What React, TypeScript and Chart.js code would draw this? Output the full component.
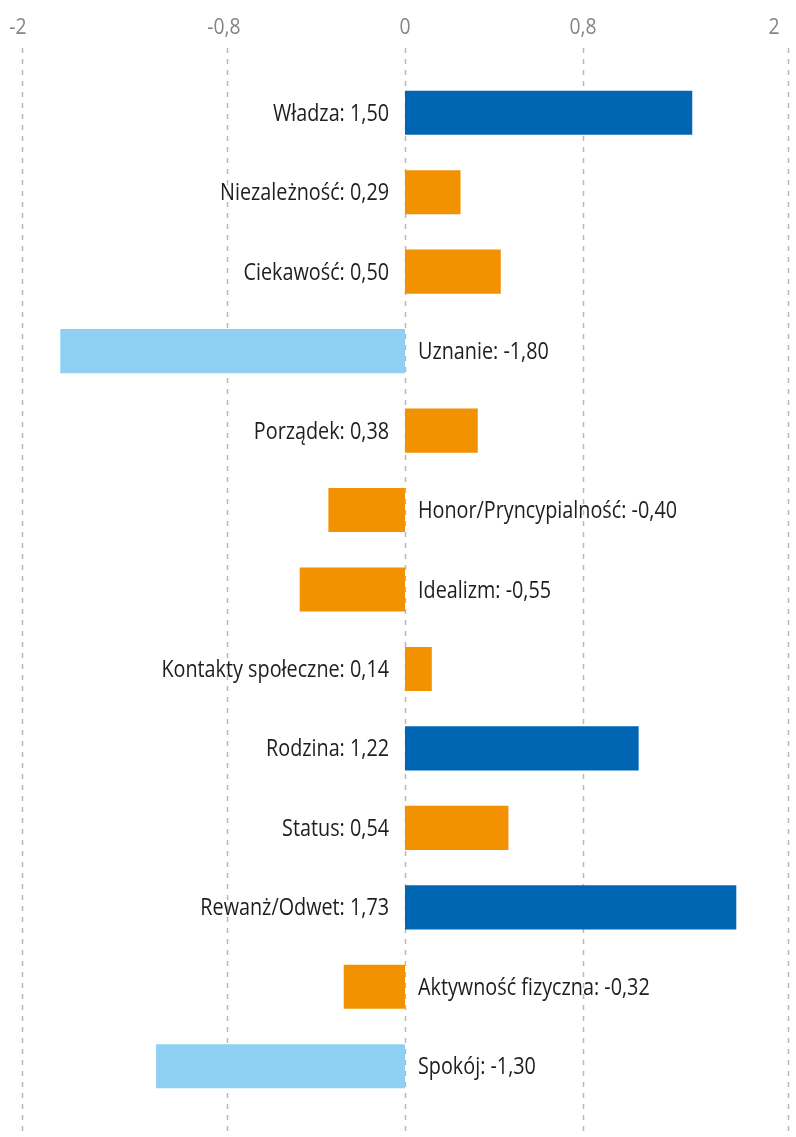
import React, { useEffect, useRef } from "react";
import { Chart, registerables } from "chart.js";

Chart.register(...registerables);

const categories = [
  "Władza",
  "Niezależność",
  "Ciekawość",
  "Uznanie",
  "Porządek",
  "Honor/Pryncypialność",
  "Idealizm",
  "Kontakty społeczne",
  "Rodzina",
  "Status",
  "Rewanż/Odwet",
  "Aktywność fizyczna",
  "Spokój",
];

const values = [1.5, 0.29, 0.5, -1.8, 0.38, -0.4, -0.55, 0.14, 1.22, 0.54, 1.73, -0.32, -1.3];

const tickValues = [-2, -0.93, 0, 0.93, 2];
const tickLabels = ["-2", "-0,8", "0", "0,8", "2"];

const DARK_BLUE = "#0066b3";
const ORANGE = "#f39200";
const LIGHT_BLUE = "#8fd0f2";
const FONT = "'Open Sans', sans-serif";

function colorFor(v: number) {
  if (v >= 1) return DARK_BLUE;
  if (v <= -1) return LIGHT_BLUE;
  return ORANGE;
}

function fmt(v: number) {
  return v.toFixed(2).replace(".", ",");
}

function narrowText(ctx: CanvasRenderingContext2D, text: string, x: number, y: number, sx: number) {
  ctx.save();
  ctx.translate(x, y);
  ctx.scale(sx, 1);
  ctx.fillText(text, 0, 0);
  ctx.restore();
}

const overlayPlugin = {
  id: "overlay",
  beforeDatasetsDraw(chart: any) {
    const ctx = chart.ctx;
    const xs = chart.scales.x;
    ctx.save();
    ctx.strokeStyle = "#b8b8b8";
    ctx.lineWidth = 1.5;
    ctx.setLineDash([5, 6]);
    tickValues.forEach((t) => {
      const x = Math.round(xs.getPixelForValue(t)) + 0.5;
      ctx.beginPath();
      ctx.moveTo(x, 48);
      ctx.lineTo(x, 1132);
      ctx.stroke();
    });
    ctx.setLineDash([]);
    ctx.fillStyle = "#858585";
    ctx.font = `21px ${FONT}`;
    ctx.textAlign = "center";
    ctx.textBaseline = "alphabetic";
    tickValues.forEach((t, i) => {
      let x = xs.getPixelForValue(t);
      if (i === 0) x -= 4;
      if (i === 1) x -= 3;
      if (i === tickValues.length - 1) x -= 14;
      narrowText(ctx, tickLabels[i], x, 33.5, 0.92);
    });
    ctx.restore();
  },
  afterDatasetsDraw(chart: any) {
    const ctx = chart.ctx;
    const xs = chart.scales.x;
    const meta = chart.getDatasetMeta(0);
    const x0 = xs.getPixelForValue(0);
    ctx.save();
    ctx.fillStyle = "#1e1e1e";
    ctx.font = `23px ${FONT}`;
    ctx.textBaseline = "alphabetic";
    meta.data.forEach((bar: any, i: number) => {
      const v = values[i];
      const text = `${categories[i]}: ${fmt(v)}`;
      if (v >= 0) {
        ctx.textAlign = "right";
        narrowText(ctx, text, x0 - 16, bar.y + 8, 0.86);
      } else {
        ctx.textAlign = "left";
        narrowText(ctx, text, x0 + 13, bar.y + 8, 0.86);
      }
    });
    ctx.restore();
  },
};

export default function App() {
  const ref = useRef<HTMLCanvasElement | null>(null);

  useEffect(() => {
    if (!ref.current) return;
    const chart = new Chart(ref.current, {
      type: "bar",
      data: {
        labels: categories,
        datasets: [
          {
            data: values,
            backgroundColor: values.map(colorFor),
            borderWidth: 0,
            categoryPercentage: 1,
            barPercentage: 0.555,
          },
        ],
      },
      options: {
        indexAxis: "y",
        animation: false,
        responsive: true,
        maintainAspectRatio: false,
        layout: { padding: { left: 22, right: 8, top: 73, bottom: 31 } },
        scales: {
          x: { display: false, min: -2, max: 2 },
          y: { display: false },
        },
        plugins: {
          legend: { display: false },
          tooltip: { enabled: false },
        },
      },
      plugins: [overlayPlugin],
    });
    return () => chart.destroy();
  }, []);

  return (
    <div style={{ position: "absolute", left: 0, top: 0, width: 796, height: 1137, background: "#fff" }}>
      <canvas ref={ref} />
    </div>
  );
}
